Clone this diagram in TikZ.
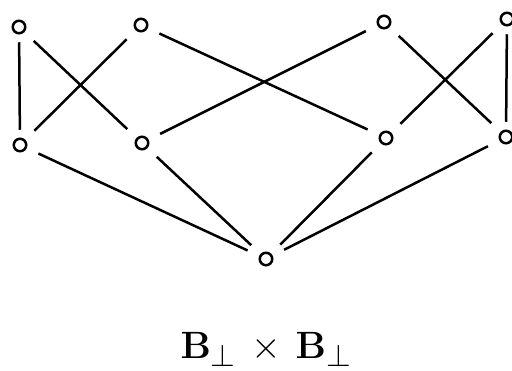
\documentclass[tikz,border=0pt]{standalone}
\begin{document}
\begin{tikzpicture}[x=1pt,y=-1pt,
  vtx/.style={draw,circle,line width=2.5pt,inner sep=0pt,minimum size=12.5pt,outer sep=0pt},
  edge/.style={line width=2.5pt,shorten <=14pt,shorten >=14pt},
  vedge/.style={edge,shorten <=9pt,shorten >=9pt}]
\useasboundingbox (0,0) rectangle (512,370);
\node[vtx] (t1) at (19,27) {};
\node[vtx] (t2) at (141,25) {};
\node[vtx] (t3) at (384,22) {};
\node[vtx] (t4) at (507,19) {};
\node[vtx] (m1) at (20,145) {};
\node[vtx] (m2) at (142,143) {};
\node[vtx] (m3) at (386,138) {};
\node[vtx] (m4) at (506,137) {};
\node[vtx] (b) at (266,259) {};
\draw[vedge] (t1) -- (m1);
\draw[edge] (t1) -- (m2);
\draw[edge] (t2) -- (m1);
\draw[edge] (t2) -- (m3);
\draw[edge] (t3) -- (m2);
\draw[edge] (t3) -- (m4);
\draw[edge] (t4) -- (m3);
\draw[vedge] (t4) -- (m4);
\draw[edge] (m1) -- (b);
\draw[edge] (m2) -- (b);
\draw[edge] (m3) -- (b);
\draw[edge] (m4) -- (b);
\node[anchor=base,inner sep=0pt] (lbl) at (266,358) {\Huge\scalebox{1.53}{$\mathbf{B}_{\perp}\,\times\,\mathbf{B}_{\perp}$}};
\end{tikzpicture}
\end{document}
